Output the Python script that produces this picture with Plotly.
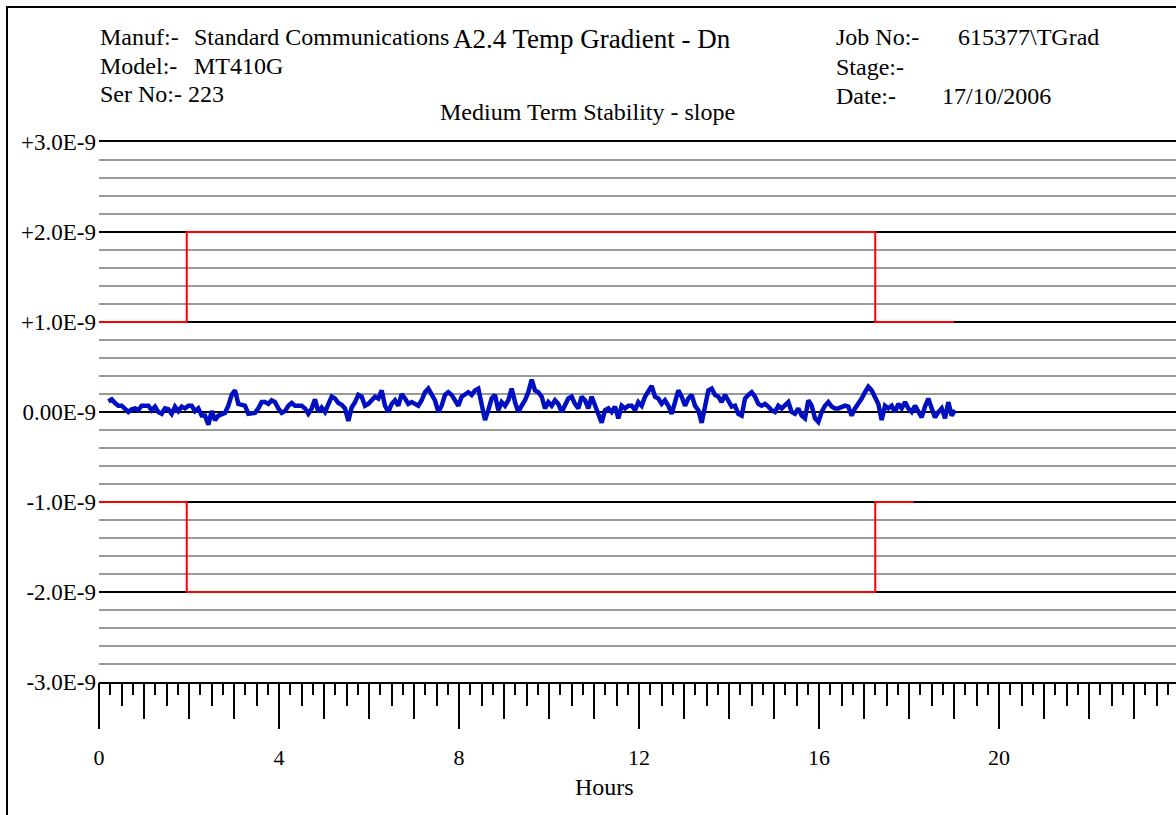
import plotly.graph_objects as go

# ---------------- data (slope in units of 1E-9, sampled on a regular time grid) ----------------
SAMPLE_START_H = 0.2074
SAMPLE_STEP_H = 0.074074

slope_e9 = [
    # 0.2 h .. ~4.7 h
    0.12, 0.14, 0.10, 0.07, 0.07, 0.03, 0.00, 0.03, 0.04, 0.02,
    0.07, 0.07, 0.07, 0.02, 0.06, 0.00, -0.02, 0.04, 0.03, -0.02,
    0.06, 0.01, 0.06, 0.04, 0.07, 0.07, 0.01, 0.04, -0.04, -0.04,
    -0.14, 0.01, -0.09, -0.04, -0.02, -0.01, 0.07, 0.19, 0.24, 0.09,
    0.08, 0.07, -0.02, -0.01, -0.01, 0.04, 0.11, 0.11, 0.09, 0.13,
    0.11, 0.04, -0.01, 0.01, 0.07, 0.10, 0.07, 0.07, 0.07, 0.04,
    -0.02, 0.04,
    # ~4.8 h .. ~9.4 h
    0.14, 0.00, 0.05, 0.00, 0.09, 0.17, 0.15, 0.10, 0.08, 0.04,
    -0.10, 0.05, 0.11, 0.19, 0.17, 0.07, 0.09, 0.13, 0.17, 0.15,
    0.24, 0.07, 0.00, 0.09, 0.13, 0.07, 0.20, 0.15, 0.09, 0.11,
    0.09, 0.07, 0.13, 0.22, 0.26, 0.20, 0.13, 0.00, 0.07, 0.19,
    0.22, 0.19, 0.13, 0.07, 0.17, 0.19, 0.22, 0.19, 0.24, 0.26,
    0.09, -0.09, 0.02, 0.15, 0.19, 0.02, 0.11, 0.07, 0.13, 0.26,
    0.11, 0.00, 0.07,
    # ~9.5 h .. ~14.1 h
    0.13, 0.22, 0.36, 0.24, 0.22, 0.17, 0.04, 0.11, 0.07, 0.13,
    0.09, 0.00, 0.09, 0.15, 0.17, 0.09, 0.04, 0.17, 0.13, 0.04,
    0.17, 0.07, -0.04, -0.12, 0.02, 0.04, 0.00, 0.06, -0.07, 0.07,
    0.04, 0.07, 0.07, 0.02, 0.11, 0.07, 0.17, 0.24, 0.29, 0.17,
    0.15, 0.09, 0.13, 0.07, -0.02, 0.11, 0.24, 0.17, 0.07, 0.15,
    0.19, 0.07, 0.02, -0.12, 0.04, 0.24, 0.26, 0.19, 0.17, 0.11,
    0.19, 0.13, 0.06,
    # ~14.1 h .. ~18.9 h
    0.07, -0.02, -0.04, 0.15, 0.19, 0.22, 0.17, 0.09, 0.07, 0.09,
    0.06, 0.02, 0.00, 0.07, 0.04, 0.07, 0.11, 0.00, -0.02, 0.04,
    -0.04, -0.07, 0.13, 0.07, -0.07, -0.11, 0.00, 0.07, 0.11, 0.06,
    0.04, 0.04, 0.06, 0.07, 0.06, -0.04, 0.04, 0.09, 0.15, 0.22,
    0.28, 0.24, 0.15, 0.09, -0.09, 0.07, 0.04, 0.07, 0.00, 0.09,
    0.04, 0.11, 0.04, 0.00, 0.07, 0.00, -0.06, 0.06, 0.15, 0.04,
    -0.06, 0.00, 0.04, -0.07, 0.11, -0.04, 0.02,
]
hours = [SAMPLE_START_H + i * SAMPLE_STEP_H for i in range(len(slope_e9))]

limit_hours_upper = [0, 1.95, 1.95, 17.25, 17.25, 19.0]
limit_upper_e9 = [1, 1, 2, 2, 1, 1]
limit_hours_lower = [0, 1.95, 1.95, 17.25, 17.25, 18.1]
limit_lower_e9 = [-1, -1, -2, -2, -1, -1]

ytick_vals = [-3, -2, -1, 0, 1, 2, 3]
ytick_text = ["-3.0E-9", "-2.0E-9", "-1.0E-9", "0.00E-9", "+1.0E-9", "+2.0E-9", "+3.0E-9"]
xtick_vals = [0, 4, 8, 12, 16, 20]

# ---------------- layout geometry ----------------
W, H = 1176, 815
L, R, T, B = 99, 0, 142, 133
PW, PH = W - L - R, H - T - B
X_MAX = PW / 45.0  # 45 px per hour
FONT = "Liberation Serif, Times New Roman, serif"


def px_x(px):  # window pixel -> paper
    return (px - L) / PW


def px_y(py):
    return (H - B - py) / PH


fig = go.Figure()

fig.add_trace(go.Scatter(x=limit_hours_upper, y=limit_upper_e9, mode="lines",
                         line=dict(color="#ff0000", width=2), xaxis="x2", hoverinfo="skip"))
fig.add_trace(go.Scatter(x=limit_hours_lower, y=limit_lower_e9, mode="lines",
                         line=dict(color="#ff0000", width=2), xaxis="x2", hoverinfo="skip"))
fig.add_trace(go.Scatter(x=hours, y=slope_e9, mode="lines",
                         line=dict(color="#0010c0", width=4.5)))

annotations = []


def txt(s, px, py, size=24, anchor="left"):
    annotations.append(dict(text=s, x=px_x(px), y=px_y(py), xref="paper", yref="paper",
                            xanchor=anchor, yanchor="middle", showarrow=False,
                            font=dict(family=FONT, size=size, color="black")))


txt("Manuf:-", 98, 37)
txt("Standard Communications", 192, 37)
txt("A2.4 Temp Gradient - Dn", 451, 39, size=27)
txt("Model:-", 98, 66)
txt("MT410G", 192, 66)
txt("Ser No:-", 98, 94)
txt("223", 186, 94)
txt("Medium Term Stability - slope", 438, 112)
txt("Job No:-", 834, 37)
txt("615377\\TGrad", 956, 37)
txt("Stage:-", 834, 67)
txt("Date:-", 834, 96)
txt("17/10/2006", 940, 96)
txt("Hours", 604, 787, anchor="center")

fig.update_layout(
    width=W, height=H,
    margin=dict(l=L, r=R, t=T, b=B, pad=0),
    paper_bgcolor="white", plot_bgcolor="white",
    showlegend=False,
    font=dict(family=FONT, size=22, color="black"),
    annotations=annotations,
    shapes=[dict(type="rect", xref="paper", yref="paper",
                 x0=px_x(7), x1=px_x(1400), y0=px_y(1100), y1=px_y(7),
                 line=dict(color="black", width=2), layer="above")],
    xaxis=dict(range=[0, X_MAX], tickmode="array", tickvals=xtick_vals,
               ticks="outside", ticklen=45, tickwidth=2, tickcolor="black",
               showgrid=False, zeroline=False, showline=True, mirror=True,
               linecolor="black", linewidth=2,
               tickfont=dict(family=FONT, size=22, color="black"),
               ticklabelstandoff=10,
               minor=dict(tickmode="linear", tick0=0, dtick=1, ticks="outside",
                          ticklen=35, tickwidth=2, tickcolor="black", showgrid=False)),
    xaxis2=dict(range=[0, X_MAX], overlaying="x", anchor="y", side="bottom",
                tickmode="linear", tick0=0, dtick=0.5, ticks="outside",
                ticklen=23, tickwidth=2, tickcolor="black", showticklabels=False,
                showgrid=False, zeroline=False, showline=False,
                minor=dict(tickmode="linear", tick0=0, dtick=0.25, ticks="outside",
                           ticklen=12, tickwidth=2, tickcolor="black", showgrid=False)),
    yaxis=dict(range=[-3, 3], tickmode="array", tickvals=ytick_vals, ticktext=ytick_text,
               ticks="", showgrid=True, gridcolor="black", gridwidth=2,
               zeroline=False, showline=False,
               tickfont=dict(family=FONT, size=23, color="black"),
               ticklabelstandoff=2,
               minor=dict(tickmode="linear", tick0=0, dtick=0.2, showgrid=True,
                          gridcolor="#999999", gridwidth=1.5)),
)

# remove the default page margin so the figure fills the window exactly
fig.write_html("out.html",
               config={"displayModeBar": False},
               post_script="document.body.style.margin='0px';document.body.style.overflow='hidden';")
